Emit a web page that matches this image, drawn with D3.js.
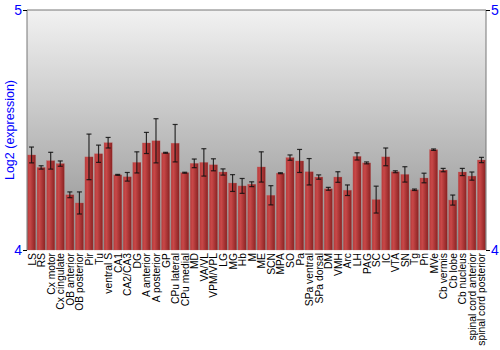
<!DOCTYPE html>
<html>
<head>
<meta charset="utf-8">
<script src="https://cdn.jsdelivr.net/npm/d3@7"></script>
<style>
  body { margin: 0; background: #fff; }
  text { font-family: "Liberation Sans", Arial, sans-serif; }
</style>
</head>
<body>
<div id="chart-area"></div>
<script>
var regions = ["LS", "RS", "Cx motor", "Cx cingulate", "OB anterior", "OB posterior", "Pir", "Tu",
    "ventral S", "CA1", "CA2/CA3", "DG", "A anterior", "A posterior", "GP", "CPu lateral",
    "CPu medial", "MD", "VA/VL", "VPM/VPL", "LG", "MG", "Hb", "M", "ME", "SCN", "MPA", "SO",
    "Pa", "SPa ventral", "SPa dorsal", "DM", "VMH", "Arc", "LH", "PAG", "SC", "IC", "VTA", "SN",
    "Tg", "Pn", "MVe", "Cb vermis", "Cb lobe", "Cb nucleus", "spinal cord anterior", "spinal cord posterior"];

var means = [4.396, 4.344, 4.372, 4.360, 4.230, 4.196, 4.388, 4.401,
    4.447, 4.313, 4.305, 4.365, 4.446, 4.455, 4.405, 4.445,
    4.322, 4.361, 4.365, 4.355, 4.325, 4.279, 4.267, 4.274, 4.346, 4.228, 4.320, 4.385,
    4.371, 4.326, 4.304, 4.255, 4.304, 4.249, 4.390, 4.363, 4.210, 4.388, 4.326, 4.315,
    4.251, 4.300, 4.418, 4.333, 4.208, 4.325, 4.308, 4.375];

var errs = [0.033, 0.007, 0.035, 0.011, 0.012, 0.046, 0.095, 0.036,
    0.022, 0.002, 0.018, 0.044, 0.044, 0.092, 0.002, 0.078,
    0.002, 0.018, 0.057, 0.025, 0.013, 0.035, 0.031, 0.010, 0.063, 0.040, 0.002, 0.011,
    0.048, 0.055, 0.009, 0.006, 0.022, 0.022, 0.015, 0.004, 0.056, 0.037, 0.004, 0.032,
    0.003, 0.020, 0.003, 0.007, 0.021, 0.015, 0.017, 0.011];

var yTicks = [4, 5];

var margin = {top: 10, right: 14, bottom: 100, left: 27},
    width = 500 - margin.left - margin.right,
    height = 350 - margin.top - margin.bottom;

var svg = d3.select("#chart-area")
    .append("svg")
        .attr("width", 500)
        .attr("height", 350)
    .append("g")
        .attr("transform", "translate(" + margin.left + "," + margin.top + ")");

var defs = svg.append("defs");
var bg = defs.append("linearGradient").attr("id", "bg-grad")
    .attr("x1", 0).attr("y1", 0).attr("x2", 0).attr("y2", 1);
bg.append("stop").attr("offset", "0%").attr("stop-color", "#f2f2f2");
bg.append("stop").attr("offset", "100%").attr("stop-color", "#8e8e8e");

var barGrad = defs.append("linearGradient").attr("id", "bar-grad")
    .attr("x1", 0).attr("y1", 0).attr("x2", 1).attr("y2", 0);
barGrad.append("stop").attr("offset", "0%").attr("stop-color", "#b83a3a");
barGrad.append("stop").attr("offset", "30%").attr("stop-color", "#c84848");
barGrad.append("stop").attr("offset", "100%").attr("stop-color", "#8a2222");

var x = d3.scaleBand()
    .domain(regions)
    .range([0, width])
    .paddingInner(0.15)
    .paddingOuter(0.05);

var y = d3.scaleLinear()
    .domain([4, 5])
    .range([height, 0]);

// background
svg.append("rect")
    .attr("width", width)
    .attr("height", height)
    .attr("fill", "url(#bg-grad)");

// bars
svg.append("g")
    .attr("class", "bars")
    .selectAll("rect")
    .data(regions)
    .enter()
    .append("rect")
        .attr("x", d => x(d))
        .attr("width", x.bandwidth())
        .attr("y", (d, i) => y(means[i]))
        .attr("height", (d, i) => height - y(means[i]))
        .attr("fill", "url(#bar-grad)")
        .attr("stroke", "#c06060")
        .attr("stroke-opacity", 0.5)
        .attr("stroke-width", 0.5);

// error bars
var eb = svg.append("g")
    .attr("class", "errors")
    .attr("stroke", "#111")
    .attr("stroke-opacity", 0.85)
    .attr("stroke-width", 1.2)
    .selectAll("g")
    .data(regions)
    .enter()
    .append("g")
        .attr("transform", d => "translate(" + (x(d) + x.bandwidth() / 2) + ",0)");

eb.append("line")
    .attr("y1", (d, i) => y(means[i] - errs[i]))
    .attr("y2", (d, i) => y(means[i] + errs[i]));
eb.append("line")
    .attr("x1", -2.5).attr("x2", 2.5)
    .attr("y1", (d, i) => y(means[i] + errs[i]))
    .attr("y2", (d, i) => y(means[i] + errs[i]));
eb.append("line")
    .attr("x1", -2.5).attr("x2", 2.5)
    .attr("y1", (d, i) => y(means[i] - errs[i]))
    .attr("y2", (d, i) => y(means[i] - errs[i]));

// frame
svg.append("line")
    .attr("x1", 0).attr("x2", width)
    .attr("y1", 0).attr("y2", 0)
    .attr("stroke", "#777");

// y axes
var left = svg.append("g")
    .attr("class", "y-axis")
    .call(d3.axisLeft(y).tickValues(yTicks).tickSize(4).tickFormat(d3.format("d")));
var right = svg.append("g")
    .attr("class", "y-axis")
    .attr("transform", "translate(" + width + ",0)")
    .call(d3.axisRight(y).tickValues(yTicks).tickSize(4).tickFormat(d3.format("d")));

svg.selectAll(".y-axis .domain").attr("stroke", "#777").attr("d", "M0,0V" + height);
svg.selectAll(".y-axis .tick line").attr("stroke", "#000");
svg.selectAll(".y-axis .tick text")
    .attr("fill", "#0000ff")
    .style("font-size", "14px")
    .style("font-family", "Liberation Sans, Arial, sans-serif");
left.selectAll(".tick text").attr("x", -5);
right.selectAll(".tick text").attr("x", 5);

// x labels
svg.append("g")
    .attr("class", "x-labels")
    .selectAll("text")
    .data(regions)
    .enter()
    .append("text")
        .attr("transform", d => "translate(" + (x(d) + x.bandwidth() / 2 + 4) + "," + (height + 3) + ") rotate(-90)")
        .style("text-anchor", "end")
        .style("font-size", "10.3px")
        .attr("fill", "#000")
        .text(d => d);

// y label
svg.append("text")
    .attr("transform", "rotate(-90)")
    .attr("x", 0 - height / 2)
    .attr("y", 0 - margin.left + 14)
    .style("text-anchor", "middle")
    .style("font-size", "12.5px")
    .attr("fill", "#0000ff")
    .text("Log2 (expression)");
</script>
</body>
</html>
